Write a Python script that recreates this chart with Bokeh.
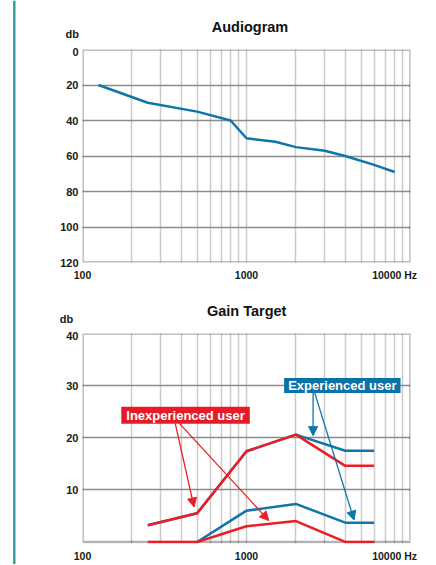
from bokeh.plotting import figure
from bokeh.models import (Range1d, FixedTicker, Arrow, NormalHead, Label,
                          ColumnDataSource, Span, BoxAnnotation, Div)
from bokeh.layouts import row, column
from bokeh.embed import file_html
from bokeh.resources import INLINE

FONT = "Liberation Sans"
BLUE = "#0e76ab"
RED = "#ec1d25"
BLUE_BOX = "#0a72a6"
RED_BOX = "#e61b26"
TEAL = "#2b9c9e"
GRID_V = "#cbcbcb"
GRID_H = "#8c8c8c"
TXT = "#1a1a1a"

# ---------------- data ----------------
# Audiogram (hearing loss, dB HL, axis inverted)
aud_freq = [125, 250, 500, 800, 1000, 1500, 2000, 3000, 4000, 6000, 8000]
aud_db = [20, 30, 35, 40, 50, 52, 55, 57, 60, 65, 69]

# Gain target
inexp_freq = [250, 500, 1000, 2000, 4000, 6000]
inexp_upper = [3.2, 5.5, 17.4, 20.6, 14.6, 14.6]
inexp_lower = [0, 0, 3.0, 4.0, 0, 0]
exp_upper_freq = [250, 500, 1000, 2000, 4000, 6000]
exp_upper = [3.2, 5.5, 17.4, 20.6, 17.5, 17.5]
exp_lower_freq = [500, 1000, 2000, 4000, 6000]
exp_lower = [0, 6.0, 7.3, 3.7, 3.7]

# tick labels (the "10000 Hz" label text ends just past the right frame edge)
x_tick_values = [100, 1000, 8000]
x_tick_labels = ["100", "1000", "10000 Hz"]
aud_y_ticks = [0, 20, 40, 60, 80, 100, 120]
aud_y_grid = [20, 40, 60, 80, 100]
gain_y_ticks = [10, 20, 30, 40]
gain_y_grid = [10, 20, 30]
grid_freqs = [m * 10 ** e for e in (2, 3) for m in range(2, 10)] + [1000]

# callout labels and arrows (data coordinates of gain chart)
exp_label = dict(text="Experienced user", x=3840, y=30.0)
inexp_label = dict(text="Inexperienced user", x=425, y=24.3)
red_arrows = dict(x0=[368, 391], y0=[22.7, 22.7], x1=[479, 1368], y1=[6.7, 4.1])
blue_arrows = dict(x0=[2547, 2606], y0=[28.6, 28.6], x1=[2547, 4529], y1=[20.4, 4.2])

COL_W = 419


def header(height, title, tx, ty, dx, dy):
    svg = (
        f'<svg width="{COL_W}" height="{height}" style="display:block" '
        f'xmlns="http://www.w3.org/2000/svg">'
        f'<text x="{tx}" y="{ty}" text-anchor="middle" font-family="{FONT}" '
        f'font-weight="bold" font-size="14.5px" fill="#111111">{title}</text>'
        f'<text x="{dx}" y="{dy}" text-anchor="end" font-family="{FONT}" '
        f'font-weight="bold" font-size="11px" fill="{TXT}">db</text>'
        f'</svg>'
    )
    return Div(text=svg, width=COL_W, height=height, margin=0)


def make_fig(height, y_start, y_end, bl, br, bt, bb, y_ticks, y_grid, box_bottom=None):
    p = figure(width=COL_W, height=height, x_axis_type="log",
               x_range=Range1d(100, 10000), y_range=Range1d(y_start, y_end),
               toolbar_location=None, output_backend="svg",
               min_border_left=bl, min_border_right=br,
               min_border_top=bt, min_border_bottom=bb)
    p.outline_line_color = None
    p.xaxis.ticker = FixedTicker(ticks=x_tick_values)
    p.xaxis.major_label_overrides = dict(zip(x_tick_values, x_tick_labels))
    p.yaxis.ticker = FixedTicker(ticks=y_ticks)
    for ax in p.axis:
        ax.axis_line_color = None
        ax.major_tick_line_color = None
        ax.minor_tick_line_color = None
        ax.major_tick_in = 0
        ax.major_tick_out = 0
        ax.minor_tick_in = 0
        ax.minor_tick_out = 0
        ax.major_label_text_font = FONT
        ax.major_label_text_font_style = "bold"
        ax.major_label_text_color = TXT
    p.xaxis.major_label_text_font_size = "10.5px"
    p.yaxis.major_label_text_font_size = "11px"
    p.xaxis.major_label_standoff = 6
    p.yaxis.major_label_standoff = 4
    p.xgrid.ticker = FixedTicker(ticks=grid_freqs)
    p.xgrid.grid_line_color = GRID_V
    p.xgrid.grid_line_width = 1.5
    p.ygrid.ticker = FixedTicker(ticks=y_grid)
    p.ygrid.grid_line_color = GRID_H
    p.ygrid.grid_line_width = 1.3
    # frame border drawn beneath the data lines
    p.add_layout(BoxAnnotation(level="underlay", fill_color=None, bottom=box_bottom,
                               line_color="black", line_width=2.5))
    return p


# ---------------- Audiogram ----------------
head1 = header(47, "Audiogram", 234, 31.7, 63, 38)
f1 = make_fig(236, 120, 0, 66, COL_W - 66 - 333, 2, 20, aud_y_ticks, aud_y_grid)
f1.line(aud_freq, aud_db, line_color=BLUE, line_width=2.5)

# ---------------- Gain target ----------------
head2 = header(48, "Gain Target", 230.7, 33, 57.3, 40.3)
f2 = make_fig(233, -0.3, 40, 61, COL_W - 61 - 333, 2, 16, gain_y_ticks, gain_y_grid,
              box_bottom=0)
f2.line(exp_upper_freq, exp_upper, line_color=BLUE, line_width=2.5)
f2.line(exp_lower_freq, exp_lower, line_color=BLUE, line_width=2.5)
f2.line(inexp_freq, inexp_upper, line_color=RED, line_width=2.5)
f2.line(inexp_freq, inexp_lower, line_color=RED, line_width=2.5)

f2.add_layout(Arrow(source=ColumnDataSource(red_arrows),
                    x_start="x0", y_start="y0", x_end="x1", y_end="y1",
                    line_color=RED, line_width=1.3,
                    end=NormalHead(size=9, fill_color=RED, line_color=RED, line_width=1)))
f2.add_layout(Arrow(source=ColumnDataSource(blue_arrows),
                    x_start="x0", y_start="y0", x_end="x1", y_end="y1",
                    line_color=BLUE, line_width=1.3,
                    end=NormalHead(size=9, fill_color=BLUE, line_color=BLUE, line_width=1)))

for lab, fill, pad in ((exp_label, BLUE_BOX, (4, 0)), (inexp_label, RED_BOX, (5, 1))):
    f2.add_layout(Label(x=lab["x"], y=lab["y"], text=lab["text"],
                        text_align="center", text_baseline="middle",
                        text_font=FONT, text_font_style="bold",
                        text_font_size="13px", text_color="white",
                        background_fill_color=fill, padding=pad))

# ---------------- side rule ----------------
TOTAL_H = 47 + 236 + 48 + 233
side = figure(width=16, height=TOTAL_H, x_range=Range1d(0, 16), y_range=Range1d(0, 1),
              toolbar_location=None, output_backend="svg", min_border=0,
              x_axis_location=None, y_axis_location=None)
side.grid.visible = False
side.outline_line_color = None
side.add_layout(Span(location=13.8, dimension="height", line_color=TEAL, line_width=2.4))

layout = row(side, column(head1, f1, head2, f2))
open("out.html", "w").write(file_html(layout, INLINE))
